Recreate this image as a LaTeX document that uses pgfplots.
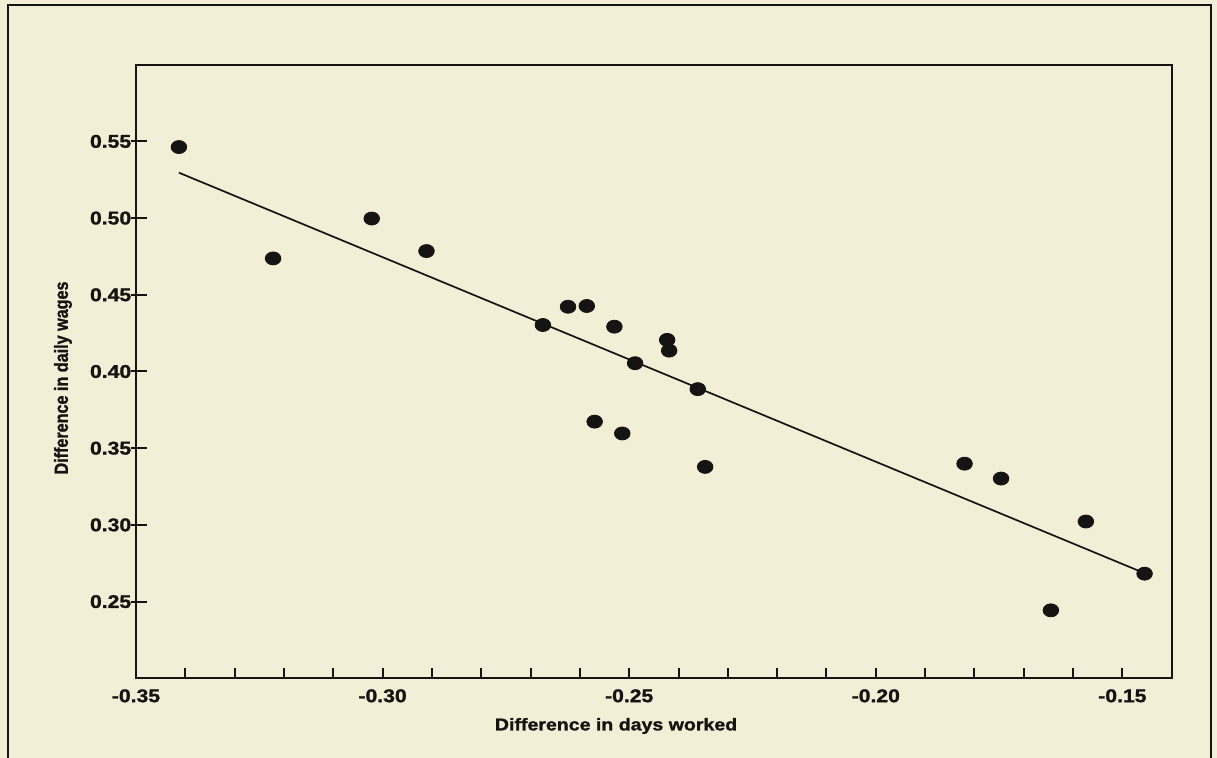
\documentclass[border=0pt]{standalone}
\usepackage{pgfplots}
\pgfplotsset{compat=1.18}
\usepackage{fontspec}
\setmainfont{Liberation Sans}
\newfontfamily\tickfont[FakeStretch=1.15,BoldFeatures={FakeBold=1.4}]{Liberation Sans}
\newfontfamily\ylabfont[FakeStretch=0.85,BoldFeatures={FakeBold=1.2}]{Liberation Sans}
\definecolor{paper}{RGB}{243,238,214}
\definecolor{ink}{RGB}{22,20,18}
\pgfplotstableread{
x y
-0.3413 0.5463
-0.3222 0.4737
-0.3022 0.4997
-0.2911 0.4785
-0.2675 0.4303
-0.2624 0.4422
-0.2586 0.4427
-0.2530 0.4292
-0.2423 0.4206
-0.2419 0.4136
-0.2488 0.4054
-0.2361 0.3885
-0.2570 0.3673
-0.2514 0.3596
-0.2346 0.3378
-0.1820 0.3399
-0.1746 0.3302
-0.1574 0.3022
-0.1455 0.2682
-0.1645 0.2443
}\pts
\pgfplotstableread{
x y
-0.3413 0.5296
-0.1455 0.2685
}\fit
\begin{document}
\begin{tikzpicture}
\useasboundingbox (0,0) rectangle (608.5pt,379pt);
\fill[paper] (0,0) rectangle (608.5pt,379pt);
\draw[ink,line width=1.3pt] (4pt,-1pt) -- (4pt,376.5pt) -- (605.5pt,376.5pt) -- (605.5pt,-1pt);
\begin{axis}[
  at={(68pt,39.85pt)}, anchor=south west,
  scale only axis, width=517.85pt, height=306.8pt,
  xmin=-0.35, xmax=-0.14, ymin=0.20, ymax=0.60,
  axis line style={ink,line width=1.15pt},
  xtick={-0.35,-0.30,-0.25,-0.20,-0.15},
  xticklabels={-0.35,-0.30,-0.25,-0.20,-0.15},
  minor x tick num=4,
  ytick={0.25,0.30,0.35,0.40,0.45,0.50,0.55},
  yticklabels={0.25,0.30,0.35,0.40,0.45,0.50,0.55},
  tick align=inside,
  major tick length=5pt, minor tick length=5pt,
  xtick pos=bottom, ytick pos=left,
  tick style={ink,line width=1pt},
  ytick style={/pgfplots/major tick length=8pt, xshift=-2.5pt},
  xticklabel style={font=\tickfont\bfseries\fontsize{9.2}{10}\selectfont, inner sep=0pt, yshift=-5.3pt, text=ink},
  yticklabel style={font=\tickfont\bfseries\fontsize{9.2}{10}\selectfont, inner sep=0pt, xshift=-2.2pt, text=ink},
  xlabel={Difference in days worked},
  ylabel={Difference in daily wages},
  xlabel style={at={(axis description cs:0.4635,0)}, anchor=center, yshift=-23.85pt, font=\tickfont\bfseries\fontsize{8.5}{10}\selectfont, text=ink},
  ylabel style={at={(axis description cs:0,0.4894)}, anchor=center, yshift=36.5pt, font=\ylabfont\bfseries\fontsize{9.5}{10}\selectfont, text=ink},
  clip=false,
]
\addplot[ink, line width=0.85pt, no marks] table[x=x,y=y] {\fit};
\addplot[only marks, mark=*, mark size=3.25pt, mark options={ink, fill=ink, xscale=1.2}] table[x=x,y=y] {\pts};
\end{axis}
\end{tikzpicture}
\end{document}
